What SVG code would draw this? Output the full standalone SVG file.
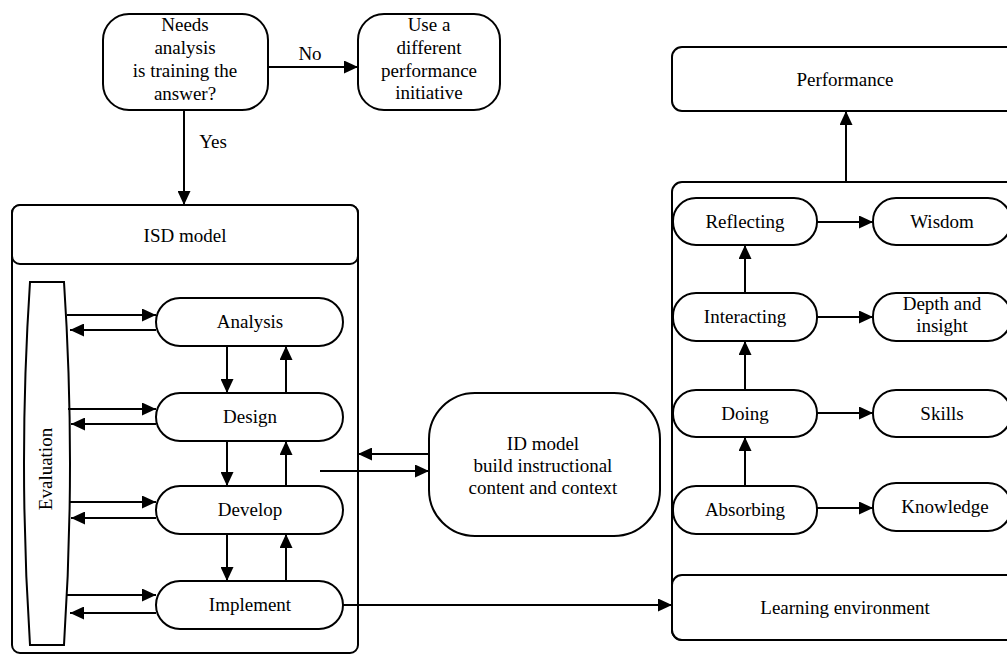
<svg xmlns="http://www.w3.org/2000/svg" width="1007" height="656" viewBox="0 0 1007 656">
<style>
.box{fill:#fff;stroke:#000;stroke-width:2}
.t{font-family:"Liberation Serif","Times New Roman",serif;font-size:19px;fill:#000;text-anchor:middle}
.c{stroke:#000;stroke-width:2;fill:none;marker-end:url(#ah)}
</style>
<defs>
<marker id="ah" markerUnits="userSpaceOnUse" markerWidth="14" markerHeight="13" refX="14" refY="6.5" orient="auto"><path d="M0,0 L14,6.5 L0,13 z" fill="#000"/></marker>
</defs>
<rect width="1007" height="656" fill="#fff"/>

<g id="decision"><rect class="box" x="103" y="14" width="165" height="96" rx="26"/>
<text class="t" x="185" y="31">Needs</text><text class="t" x="185" y="54">analysis</text><text class="t" x="185" y="77">is training the</text><text class="t" x="185" y="100">answer?</text></g>
<g id="different"><rect class="box" x="358" y="14" width="142" height="96" rx="26"/>
<text class="t" x="429" y="31">Use a</text><text class="t" x="429" y="54">different</text><text class="t" x="429" y="77">performance</text><text class="t" x="429" y="99">initiative</text></g>

<g id="isd"><rect class="box" x="12" y="205" width="346" height="448" rx="8"/>
<rect class="box" x="12" y="205" width="346" height="59" rx="8"/>
<text class="t" x="185" y="242">ISD model</text></g>
<g id="evaluation"><path class="box" d="M30,282 L64,282 Q76,463 64,645 L30,645 Q18,463 30,282 Z"/>
<text class="t" transform="translate(52,469) rotate(-90)" x="0" y="0">Evaluation</text></g>
<g id="analysis"><rect class="box" x="156" y="298" width="187" height="48" rx="24"/><text class="t" x="250" y="328">Analysis</text></g>
<g id="design"><rect class="box" x="156" y="393" width="187" height="48" rx="24"/><text class="t" x="250" y="423">Design</text></g>
<g id="develop"><rect class="box" x="156" y="486" width="187" height="48" rx="24"/><text class="t" x="250" y="516">Develop</text></g>
<g id="implement"><rect class="box" x="156" y="581" width="187" height="48" rx="24"/><text class="t" x="250" y="611">Implement</text></g>

<g id="idmodel"><rect class="box" x="429" y="393" width="231" height="143" rx="46"/>
<text class="t" x="543" y="450">ID model</text><text class="t" x="543" y="472">build instructional</text><text class="t" x="543" y="494">content and context</text></g>

<g id="performance"><rect class="box" x="672" y="47" width="350" height="64" rx="10"/><text class="t" x="845" y="86">Performance</text></g>
<g id="learningbox"><rect class="box" x="672" y="182" width="350" height="458" rx="10"/></g>
<g id="learningenv"><rect class="box" x="672" y="575" width="350" height="65" rx="10"/><text class="t" x="845" y="614">Learning environment</text></g>
<g id="reflecting"><rect class="box" x="673" y="198" width="144" height="47" rx="23"/><text class="t" x="745" y="228">Reflecting</text></g>
<g id="interacting"><rect class="box" x="673" y="293" width="144" height="48" rx="23"/><text class="t" x="745" y="323">Interacting</text></g>
<g id="doing"><rect class="box" x="673" y="390" width="144" height="47" rx="23"/><text class="t" x="745" y="420">Doing</text></g>
<g id="absorbing"><rect class="box" x="673" y="486" width="144" height="48" rx="23"/><text class="t" x="745" y="516">Absorbing</text></g>
<g id="wisdom"><rect class="box" x="873" y="198" width="138" height="47" rx="23"/><text class="t" x="942" y="228">Wisdom</text></g>
<g id="depth"><rect class="box" x="873" y="293" width="138" height="48" rx="23"/><text class="t" x="942" y="310">Depth and</text><text class="t" x="942" y="332">insight</text></g>
<g id="skills"><rect class="box" x="873" y="390" width="138" height="47" rx="23"/><text class="t" x="942" y="420">Skills</text></g>
<g id="knowledge"><rect class="box" x="873" y="483" width="138" height="48" rx="23"/><text class="t" x="945" y="513">Knowledge</text></g>

<g id="connectors">
<path class="c" d="M268,67 H358"/>
<text class="t" x="310" y="60">No</text>
<path class="c" d="M184,110 V205"/>
<text class="t" x="213" y="148">Yes</text>
<path class="c" d="M67,315 H156"/><path class="c" d="M156,330 H70"/>
<path class="c" d="M68,409 H156"/><path class="c" d="M156,424 H71"/>
<path class="c" d="M69,502 H156"/><path class="c" d="M156,518 H71"/>
<path class="c" d="M67,595 H156"/><path class="c" d="M156,613 H70"/>
<path class="c" d="M227,346 V393"/><path class="c" d="M286,393 V346"/>
<path class="c" d="M227,441 V486"/><path class="c" d="M286,486 V441"/>
<path class="c" d="M227,534 V581"/><path class="c" d="M286,581 V534"/>
<path class="c" d="M429,454 H358"/><path class="c" d="M320,471 H429"/>
<path class="c" d="M343,605 H672"/>
<path class="c" d="M846,182 V111"/>
<path class="c" d="M745,486 V437"/><path class="c" d="M745,390 V341"/><path class="c" d="M745,293 V245"/>
<path class="c" d="M817,222 H873"/><path class="c" d="M817,317 H873"/><path class="c" d="M817,413 H873"/><path class="c" d="M817,508 H873"/>
</g>
</svg>
